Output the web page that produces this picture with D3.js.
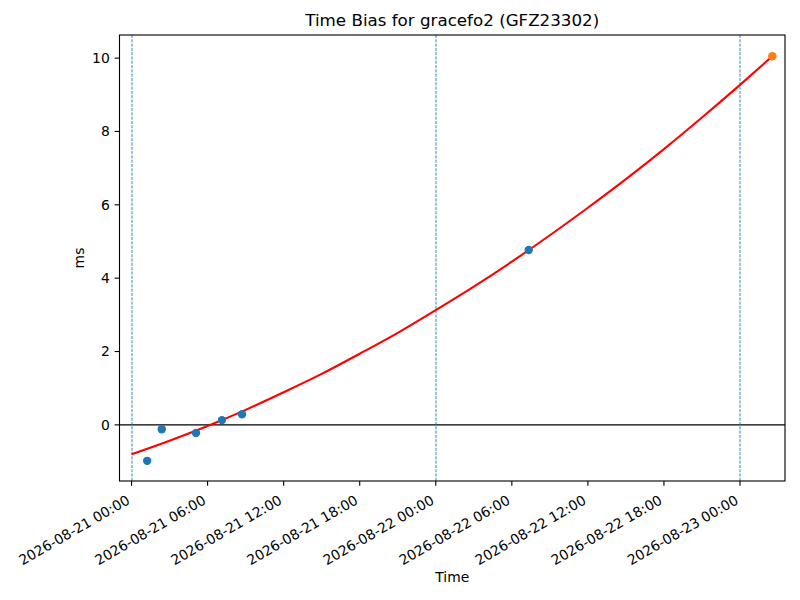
<!DOCTYPE html>
<html>
<head>
<meta charset="utf-8">
<script src="https://cdn.jsdelivr.net/npm/d3@7"></script>
<style>
  body { margin: 0; background: #fff; }
  svg text { font-family: "DejaVu Sans", sans-serif; fill: #000; }
</style>
</head>
<body>
<div id="chart"></div>
<script>
// observed time bias (ms)
var obsTimes  = ["2026-08-21T01:14", "2026-08-21T02:23", "2026-08-21T05:05",
                 "2026-08-21T07:08", "2026-08-21T08:43", "2026-08-22T07:20"];
var obsValues = [-0.98, -0.12, -0.22, 0.13, 0.29, 4.77];

// predicted point
var predTimes  = ["2026-08-23T02:33"];
var predValues = [10.05];

// fitted curve
var fitTimes  = ["2026-08-21T00:00", "2026-08-21T03:00", "2026-08-21T06:00", "2026-08-21T09:00",
                 "2026-08-21T12:00", "2026-08-21T15:00", "2026-08-21T18:00", "2026-08-21T21:00",
                 "2026-08-22T00:00", "2026-08-22T03:00", "2026-08-22T06:00", "2026-08-22T09:00",
                 "2026-08-22T12:00", "2026-08-22T15:00", "2026-08-22T18:00", "2026-08-22T21:00",
                 "2026-08-23T00:00", "2026-08-23T02:33"];
var fitValues = [-0.80, -0.43, -0.03, 0.41, 0.89, 1.39, 1.94, 2.51,
                 3.13, 3.77, 4.45, 5.17, 5.92, 6.70, 7.52, 8.38,
                 9.27, 10.05];

// day boundaries
var dayLines = ["2026-08-21T00:00", "2026-08-22T00:00", "2026-08-23T00:00"];

var yTicks = [0, 2, 4, 6, 8, 10];
var xDomain = ["2026-08-20T23:03", "2026-08-23T03:33"];
var yDomain = [-1.53, 10.63];

var titleText = "Time Bias for gracefo2 (GFZ23302)";

var parse = d3.utcParse("%Y-%m-%dT%H:%M");
var fmt = d3.utcFormat("%Y-%m-%d %H:%M");

var fullWidth = 800, fullHeight = 600;
var margin = {top: 35, right: 15, bottom: 119, left: 119.5};
var width = fullWidth - margin.left - margin.right,
    height = fullHeight - margin.top - margin.bottom;

var svg = d3.select("#chart").append("svg")
    .attr("width", fullWidth)
    .attr("height", fullHeight);

var g = svg.append("g")
    .attr("transform", "translate(" + margin.left + "," + margin.top + ")");

var x = d3.scaleUtc().domain(xDomain.map(parse)).range([0, width]);
var y = d3.scaleLinear().domain(yDomain).range([height, 0]);

var lw = 1.11, tickLen = 4.86, fontPx = 13.9;

// zero line
g.append("line")
    .attr("x1", 0).attr("x2", width)
    .attr("y1", y(0)).attr("y2", y(0))
    .attr("stroke", "#000").attr("stroke-width", lw);

// day lines
g.selectAll(".day")
    .data(dayLines)
    .enter().append("line")
    .attr("class", "day")
    .attr("x1", d => Math.round(x(parse(d))) + 0.5).attr("x2", d => Math.round(x(parse(d))) + 0.5)
    .attr("y1", 0).attr("y2", height)
    .attr("stroke", "#1f77b4").attr("stroke-width", 0.9)
    .attr("stroke-dasharray", "3,1.3");

// fit curve
var fitData = fitTimes.map((t, i) => ({t: parse(t), v: fitValues[i]}));
g.append("path")
    .datum(fitData)
    .attr("fill", "none")
    .attr("stroke", "#ff0000")
    .attr("stroke-width", 2.08)
    .attr("d", d3.line().x(d => x(d.t)).y(d => y(d.v)).curve(d3.curveMonotoneX));

// observed points
g.selectAll(".obs")
    .data(obsTimes.map((t, i) => ({t: parse(t), v: obsValues[i]})))
    .enter().append("circle")
    .attr("class", "obs")
    .attr("cx", d => x(d.t)).attr("cy", d => y(d.v))
    .attr("r", 4.2)
    .attr("fill", "#1f77b4");

// predicted point
g.selectAll(".pred")
    .data(predTimes.map((t, i) => ({t: parse(t), v: predValues[i]})))
    .enter().append("circle")
    .attr("class", "pred")
    .attr("cx", d => x(d.t)).attr("cy", d => y(d.v))
    .attr("r", 4.2)
    .attr("fill", "#ff7f0e");

// frame
g.append("rect")
    .attr("width", width).attr("height", height)
    .attr("fill", "none").attr("stroke", "#000").attr("stroke-width", lw);

// x ticks
var xTicks = x.ticks(d3.utcHour.every(6));
var xt = g.append("g").attr("transform", "translate(0," + height + ")");
xt.selectAll("line")
    .data(xTicks)
    .enter().append("line")
    .attr("x1", d => x(d)).attr("x2", d => x(d))
    .attr("y1", 0).attr("y2", tickLen)
    .attr("stroke", "#000").attr("stroke-width", lw);
xt.selectAll("text")
    .data(xTicks)
    .enter().append("text")
    .attr("transform", d => "translate(" + (x(d) - 6) + "," + (tickLen + 8) + ") rotate(-30)")
    .attr("text-anchor", "end")
    .attr("dy", "0.76em")
    .style("font-size", fontPx + "px")
    .text(d => fmt(d));

// y ticks
var yt = g.append("g");
yt.selectAll("line")
    .data(yTicks)
    .enter().append("line")
    .attr("x1", -tickLen).attr("x2", 0)
    .attr("y1", d => y(d)).attr("y2", d => y(d))
    .attr("stroke", "#000").attr("stroke-width", lw);
yt.selectAll("text")
    .data(yTicks)
    .enter().append("text")
    .attr("x", -tickLen - 4.9)
    .attr("y", d => y(d))
    .attr("dy", "0.35em")
    .attr("text-anchor", "end")
    .style("font-size", fontPx + "px")
    .text(d => d);

// labels
svg.append("text")
    .attr("x", margin.left + width / 2).attr("y", 26)
    .attr("text-anchor", "middle")
    .style("font-size", "16.7px")
    .text(titleText);

svg.append("text")
    .attr("x", margin.left + width / 2).attr("y", 582)
    .attr("text-anchor", "middle")
    .style("font-size", fontPx + "px")
    .text("Time");

svg.append("text")
    .attr("transform", "translate(84," + (margin.top + height / 2) + ") rotate(-90)")
    .attr("text-anchor", "middle")
    .style("font-size", fontPx + "px")
    .text("ms");
</script>
</body>
</html>
